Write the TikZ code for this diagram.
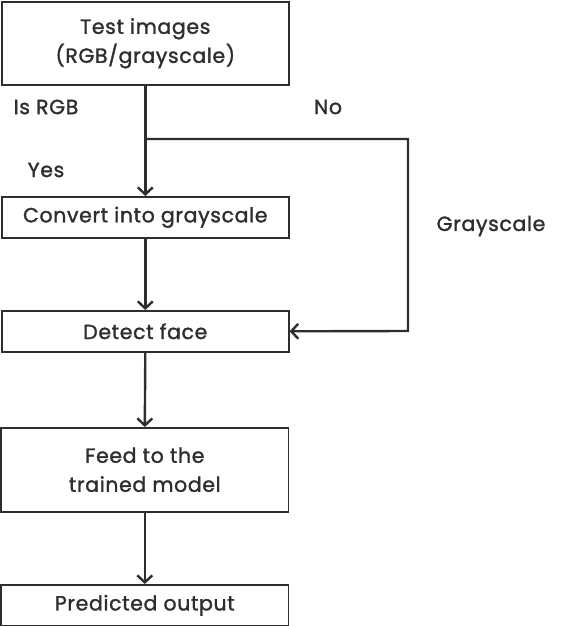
\documentclass[tikz,border=0pt]{standalone}
\usepackage{fontspec}
\setmainfont{Poppins}[FakeBold=1.4,LetterSpace=3]
\usetikzlibrary{arrows.meta}
\definecolor{ink}{HTML}{2E2E2E}
\begin{document}
\begin{tikzpicture}[x=1pt,y=-1pt,
  box/.style={draw=ink,line width=1.6pt,minimum width=287pt,anchor=north west,inner sep=0pt,align=center,font=\fontsize{20.5}{29}\selectfont,text=ink},
  lbl/.style={anchor=center,font=\fontsize{20.5}{20}\selectfont,text=ink},
  conn/.style={draw=ink,line width=2.4pt,-{Straight Barb[length=7pt,width=15pt,line width=2.4pt]}}]
\useasboundingbox (0,0) rectangle (561,626);
\node[box,minimum height=83pt] (b1) at (1,1) {Test images\\(RGB/grayscale)};
\node[box,minimum height=41pt] (b2) at (1,196) {Convert into grayscale};
\node[box,minimum height=41pt] (b3) at (1,310) {Detect face};
\node[box,minimum height=84pt] (b4) at (0.5,427) {Feed to the\\trained model};
\node[box,minimum height=41pt] (b5) at (0.5,584) {Predicted output};
\coordinate (j) at (b1.south |- 0,139);
\coordinate (r1) at (408,139);
\coordinate (r2) at (408,331);
\draw[conn] (b1.south) -- (b2.north);
\draw[conn] (j) -- (r1) -- (r2) -- (b3.east);
\draw[conn] (b2.south) -- (b3.north);
\draw[conn] (b3.south) -- (b4.north);
\draw[conn] (b4.south) -- (b5.north);
\node[lbl] (isrgb) at (46,107) {Is RGB};
\node[lbl] (yes) at (46,170) {Yes};
\node[lbl] (no) at (328,107) {No};
\node[lbl] (gray) at (491,226) {Grayscale};
\end{tikzpicture}
\end{document}
